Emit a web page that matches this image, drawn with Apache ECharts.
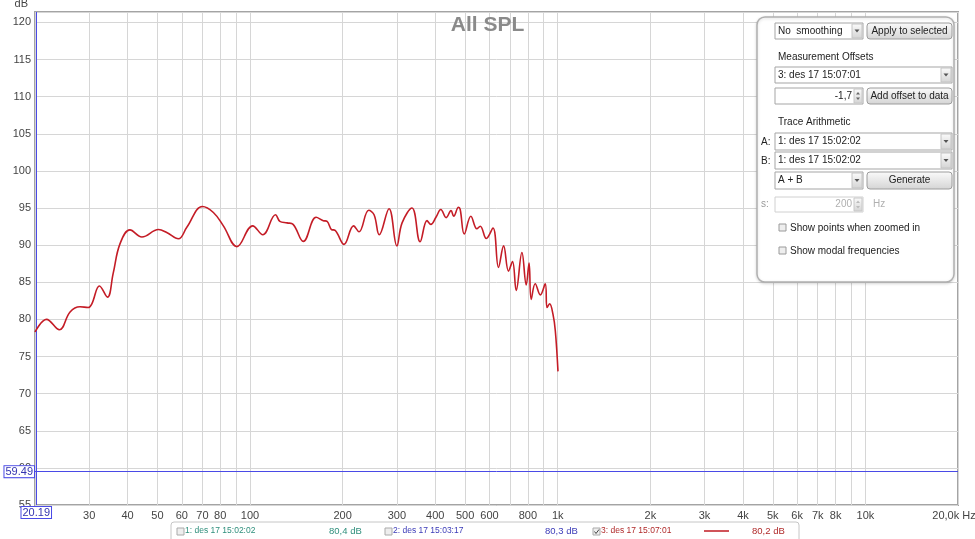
<!DOCTYPE html>
<html><head><meta charset="utf-8">
<script src="https://cdn.jsdelivr.net/npm/echarts@6/dist/echarts.min.js"></script>
<style>html,body{margin:0;padding:0;background:#fff}#c{width:975px;height:539px}</style>
</head><body><div id="c"></div>
<script>
// ---- data ----
const freqs = [20,21.8,24.0,26.0,28.0,29.8,30.6,32.4,34.4,35.9,37.8,40.7,44.5,50.4,53.6,58.5,62.3,70.0,76.0,81.9,90.6,102,110,121,125,132,138,149,164,173,178,184,189,202,217,226,243,253,263,283,300,312,336,357,376,387,402,417,434,450,459,476,482,497,522,546,560,586,616,642,667,692,713,733,765,790,807,820,845,878,911,923,941,965,982,1002];
const splDb = [78.3,80.0,78.6,81.0,81.7,81.6,82.1,84.5,83.0,86.2,90.2,92.05,91.1,92.1,91.7,90.85,92.4,95.2,94.4,92.6,89.8,92.6,91.4,94.1,93.2,93.0,92.8,90.5,93.75,93.3,93.2,92.1,92.0,90.1,92.6,91.8,94.7,94.1,91.4,94.9,89.9,93.0,95.0,90.45,93.3,92.8,93.75,94.8,93.7,94.65,93.9,95.1,94.8,91.5,93.9,92.2,92.55,90.9,92.3,87.0,89.9,86.5,87.8,83.9,89.0,84.65,87.6,82.7,84.8,83.3,84.8,81.6,82.1,80.7,78.5,73.0];
const gridFreqs = [20,30,40,50,60,70,80,90,100,200,300,400,500,600,700,800,900,1000,2000,3000,4000,5000,6000,7000,8000,9000,10000,20000];
const labelFreqs = [20,30,40,50,60,70,80,100,200,300,400,500,600,800,1000,2000,3000,4000,5000,6000,7000,8000,10000,20000];
const labelTexts = ['20','30','40','50','60','70','80','100','200','300','400','500','600','800','1k','2k','3k','4k','5k','6k','7k','8k','10k','20,0k Hz'];
const cursorFreq = 20.19;
const cursorDb = 59.49;
const legendNames = ['1: des 17 15:02:02','2: des 17 15:03:17','3: des 17 15:07:01'];
const legendLevels = ['80,4 dB','80,3 dB','80,2 dB'];
const legendColors = ['#2f8f7c','#3b3bb8','#b02a2a'];

// ---- chart ----
const FONT = '"Liberation Sans", Arial, sans-serif';
const chart = echarts.init(document.getElementById('c'));

function txt(x, y, text, opt) {
  opt = opt || {};
  return {type:'text', z: 110, style: {x:x, y:y, text:text, fill: opt.fill || '#222',
    font: (opt.weight||'normal') + ' ' + (opt.size||10) + 'px ' + FONT,
    textAlign: opt.align || 'left', textVerticalAlign: 'middle'}};
}
function box(x, y, w, h, opt) {
  opt = opt || {};
  return {type:'rect', z: 105, shape:{x:x, y:y, width:w, height:h, r: opt.r || 0},
    style:{fill: opt.fill || '#fff', stroke: opt.stroke || '#a8a8a8', lineWidth: opt.lw || 1}};
}
const btnFill = new echarts.graphic.LinearGradient(0,0,0,1,[{offset:0,color:'#fbfbfb'},{offset:1,color:'#d4d4d4'}]);
function combo(x, y, w, h, text) {
  return [
    box(x, y, w, h, {stroke:'#a5a5a5'}),
    box(x + w - 11, y + 1, 10, h - 2, {fill: btnFill, stroke:'#c4c4c4'}),
    {type:'polygon', z:110, shape:{points:[[x+w-8.5,y+h/2-1.5],[x+w-3.5,y+h/2-1.5],[x+w-6,y+h/2+1.5]]}, style:{fill:'#555'}},
    txt(x + 3, y + h/2, text)
  ];
}
function button(x, y, w, h, text) {
  return [box(x, y, w, h, {r:3, fill: btnFill, stroke:'#9c9c9c'}), txt(x + w/2, y + h/2, text, {align:'center'})];
}
function spinner(x, y, w, h, text, disabled) {
  const c = disabled ? '#b0b0b0' : '#222';
  return [
    box(x, y, w, h, {stroke: disabled ? '#d0d0d0' : '#a5a5a5'}),
    box(x + w - 9, y + 1, 8, h - 2, {fill: btnFill, stroke:'#c8c8c8'}),
    {type:'polygon', z:110, shape:{points:[[x+w-7,y+h/2-1.5],[x+w-3,y+h/2-1.5],[x+w-5,y+h/2-4]]}, style:{fill: disabled?'#bbb':'#666'}},
    {type:'polygon', z:110, shape:{points:[[x+w-7,y+h/2+1.5],[x+w-3,y+h/2+1.5],[x+w-5,y+h/2+4]]}, style:{fill: disabled?'#bbb':'#666'}},
    txt(x + w - 11, y + h/2, text, {align:'right', fill: c})
  ];
}
function checkbox(x, y, checked, color) {
  const els = [box(x, y, 7, 7, {fill:'#eee', stroke: color || '#9a9a9a'})];
  if (checked) els.push({type:'polyline', z:111, shape:{points:[[x+1.5,y+3.5],[x+3,y+5.5],[x+6,y+1.5]]}, style:{stroke:'#444', lineWidth:1, fill:null}});
  return els;
}

const graphics = [].concat(
  // control panel
  [{type:'rect', z:100, shape:{x:757, y:17, width:197, height:265, r:8},
    style:{fill:'#fff', stroke:'#b0b0b0', lineWidth:1.5, shadowBlur:3, shadowColor:'rgba(0,0,0,0.15)', shadowOffsetY:1}}],
  combo(775, 23, 88, 16, 'No  smoothing'),
  button(867, 23, 85, 16, 'Apply to selected'),
  [txt(778, 57, 'Measurement Offsets')],
  combo(775, 67, 177, 16, '3: des 17 15:07:01'),
  spinner(775, 88, 88, 16, '-1,7', false),
  button(867, 88, 85, 16, 'Add offset to data'),
  [txt(778, 122, 'Trace Arithmetic')],
  [txt(761, 142, 'A:')], combo(775, 133, 177, 17, '1: des 17 15:02:02'),
  [txt(761, 161, 'B:')], combo(775, 152, 177, 17, '1: des 17 15:02:02'),
  combo(775, 172, 88, 17, 'A + B'),
  button(867, 172, 85, 17, 'Generate'),
  [txt(761, 204, 's:', {fill:'#999'})],
  spinner(775, 197, 88, 15, '200', true),
  [txt(873, 204, 'Hz', {fill:'#b0b0b0'})],
  checkbox(779, 224, false), [txt(790, 228, 'Show points when zoomed in')],
  checkbox(779, 247, false), [txt(790, 251, 'Show modal frequencies')],
  // legend bar
  [{type:'rect', z:100, shape:{x:171, y:522, width:628, height:22, r:3}, style:{fill:'#fff', stroke:'#c6c6c6', lineWidth:1}}],
  checkbox(177, 528, false, '#aaa'), [txt(185, 531, legendNames[0], {fill:legendColors[0], size:8.5})],
  [txt(329, 531, legendLevels[0], {fill:legendColors[0], size:9.5})],
  checkbox(385, 528, false, '#aaa'), [txt(393, 531, legendNames[1], {fill:legendColors[1], size:8.5})],
  [txt(545, 531, legendLevels[1], {fill:legendColors[1], size:9.5})],
  checkbox(593, 528, true, '#aaa'), [txt(601, 531, legendNames[2], {fill:legendColors[2], size:8.5})],
  [{type:'line', z:110, shape:{x1:704, y1:531, x2:729, y2:531}, style:{stroke:'#c01a22', lineWidth:1.5}}],
  [txt(752, 531, legendLevels[2], {fill:legendColors[2], size:9.5})]
);

function freqLabel(v) {
  for (let i = 0; i < labelFreqs.length; i++) {
    if (Math.abs(labelFreqs[i] - v) / labelFreqs[i] < 0.001) {
      return i === labelFreqs.length - 1 ? '{last|' + labelTexts[i] + '}' : labelTexts[i];
    }
  }
  return '';
}

chart.setOption({
  animation: false,
  backgroundColor: '#fff',
  title: {text:'All SPL', left:'center', top:15, padding:0,
    textStyle:{fontSize:21, fontWeight:'bold', color:'#8a8a8a', fontFamily:FONT}},
  grid: {left:35, right:17, top:12, bottom:34, show:true, borderColor:'#a4a4a4', borderWidth:2,
    backgroundColor:'#fff', containLabel:false, outerBoundsMode:'none'},
  xAxis: {
    type:'log', logBase:10, min:20, max:20000,
    axisLine:{show:false},
    axisTick:{show:false, customValues: gridFreqs},
    splitLine:{show:true, customValues: gridFreqs, lineStyle:{color:'#d6d6d6', width:1}},
    axisLabel:{customValues: labelFreqs, formatter: freqLabel, color:'#444', fontSize:11, fontFamily:FONT, margin:5,
      hideOverlap:false, showMinLabel:true, showMaxLabel:true,
      rich:{last:{fontSize:11, fontFamily:FONT, color:'#444', padding:[0,8,0,0]}}}
  },
  yAxis: {
    type:'value', min:55, max:121.4, interval:5,
    name:'dB', nameLocation:'end', nameGap:3,
    nameTextStyle:{align:'right', verticalAlign:'bottom', padding:[0,7,0,0], color:'#444', fontSize:11, fontFamily:FONT},
    axisLine:{show:false}, axisTick:{show:false},
    splitLine:{show:true, lineStyle:{color:'#d6d6d6', width:1}},
    axisLabel:{color:'#444', fontSize:11, fontFamily:FONT, margin:4, showMaxLabel:false}
  },
  series: [{
    type:'line', name:legendNames[2],
    data: freqs.map((f, i) => [f, splDb[i]]),
    symbol:'none', smooth:0.4,
    lineStyle:{color:'#c41c26', width:1.6},
    z: 5,
    markLine: {
      silent:true, symbol:'none', animation:false,
      lineStyle:{color:'#4a4ae6', width:1, type:'solid'},
      data: [
        {xAxis: cursorFreq, label:{show:true, position:'start', distance:2, formatter:'20.19'}},
        {yAxis: cursorDb, label:{show:true, position:'start', distance:1, formatter:'59.49'}}
      ],
      label:{color:'#3434b0', fontSize:11, fontFamily:FONT, backgroundColor:'#fff',
        borderColor:'#4a4ae6', borderWidth:1, padding:[0,1,0,1]}
    }
  }],
  graphic: graphics
});
</script></body></html>
